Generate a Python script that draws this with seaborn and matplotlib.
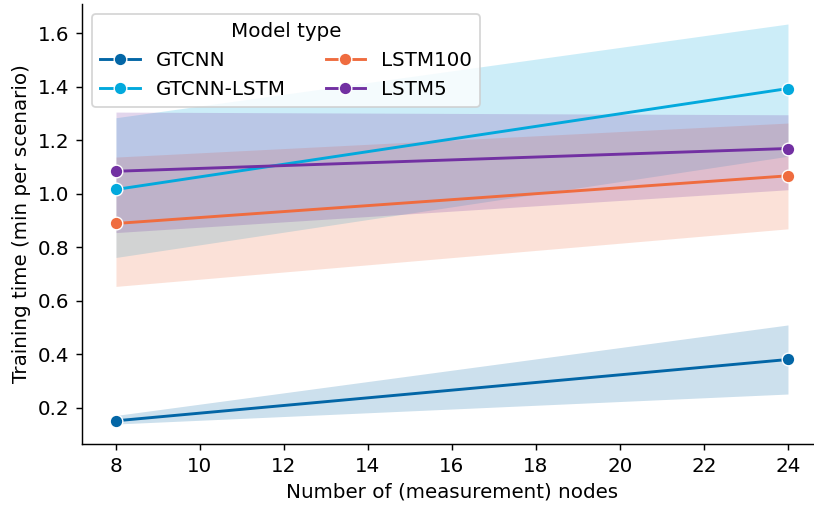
import matplotlib
matplotlib.use("Agg")
import matplotlib.pyplot as plt
import seaborn as sns
import pandas as pd

# Number of measurement nodes evaluated
nodes = [8, 24]

# Model types (hue order) and their colours
models = ["GTCNN", "GTCNN-LSTM", "LSTM100", "LSTM5"]
colors = ["#0366a6", "#02a9dd", "#ef6c3f", "#7230a2"]

# Mean training time (min per scenario) at 8 and 24 nodes
gtcnn_mean = [0.152, 0.381]
gtcnn_lstm_mean = [1.016, 1.393]
lstm100_mean = [0.889, 1.067]
lstm5_mean = [1.084, 1.169]

# Lower / upper bounds of the confidence bands
gtcnn_lo = [0.140, 0.252]
gtcnn_hi = [0.172, 0.510]
gtcnn_lstm_lo = [0.762, 1.140]
gtcnn_lstm_hi = [1.284, 1.634]
lstm100_lo = [0.654, 0.869]
lstm100_hi = [1.137, 1.264]
lstm5_lo = [0.855, 1.015]
lstm5_hi = [1.305, 1.295]

means = [gtcnn_mean, gtcnn_lstm_mean, lstm100_mean, lstm5_mean]
lows = [gtcnn_lo, gtcnn_lstm_lo, lstm100_lo, lstm5_lo]
highs = [gtcnn_hi, gtcnn_lstm_hi, lstm100_hi, lstm5_hi]

rows = []
for m, mu, lo, hi in zip(models, means, lows, highs):
    for n, v, l, h in zip(nodes, mu, lo, hi):
        rows.append({"nodes": n, "model": m, "time": v, "lo": l, "hi": h})
df = pd.DataFrame(rows)

plt.rcParams["font.family"] = ["DejaVu Sans"]
plt.rcParams["font.size"] = 11

fig = plt.figure(figsize=(814 / 130, 506 / 130), dpi=130)
ax = fig.add_axes([0.1012, 0.1225, 0.9081, 0.8696])

palette = dict(zip(models, colors))

# Confidence bands
for m in models:
    sub = df[df["model"] == m]
    ax.fill_between(sub["nodes"], sub["lo"], sub["hi"],
                    color=palette[m], alpha=0.2, linewidth=0)

sns.lineplot(data=df, x="nodes", y="time", hue="model", hue_order=models,
             palette=palette, marker="o", markersize=7, linewidth=1.6,
             errorbar=None, ax=ax)

ax.set_xticks(range(8, 25, 2))
ax.set_xlabel("Number of (measurement) nodes")
ax.set_ylabel("Training time (min per scenario)")
sns.despine(ax=ax)

sns.move_legend(ax, "upper left", ncol=2, title="Model type")

fig.savefig("out.png", dpi=130)
